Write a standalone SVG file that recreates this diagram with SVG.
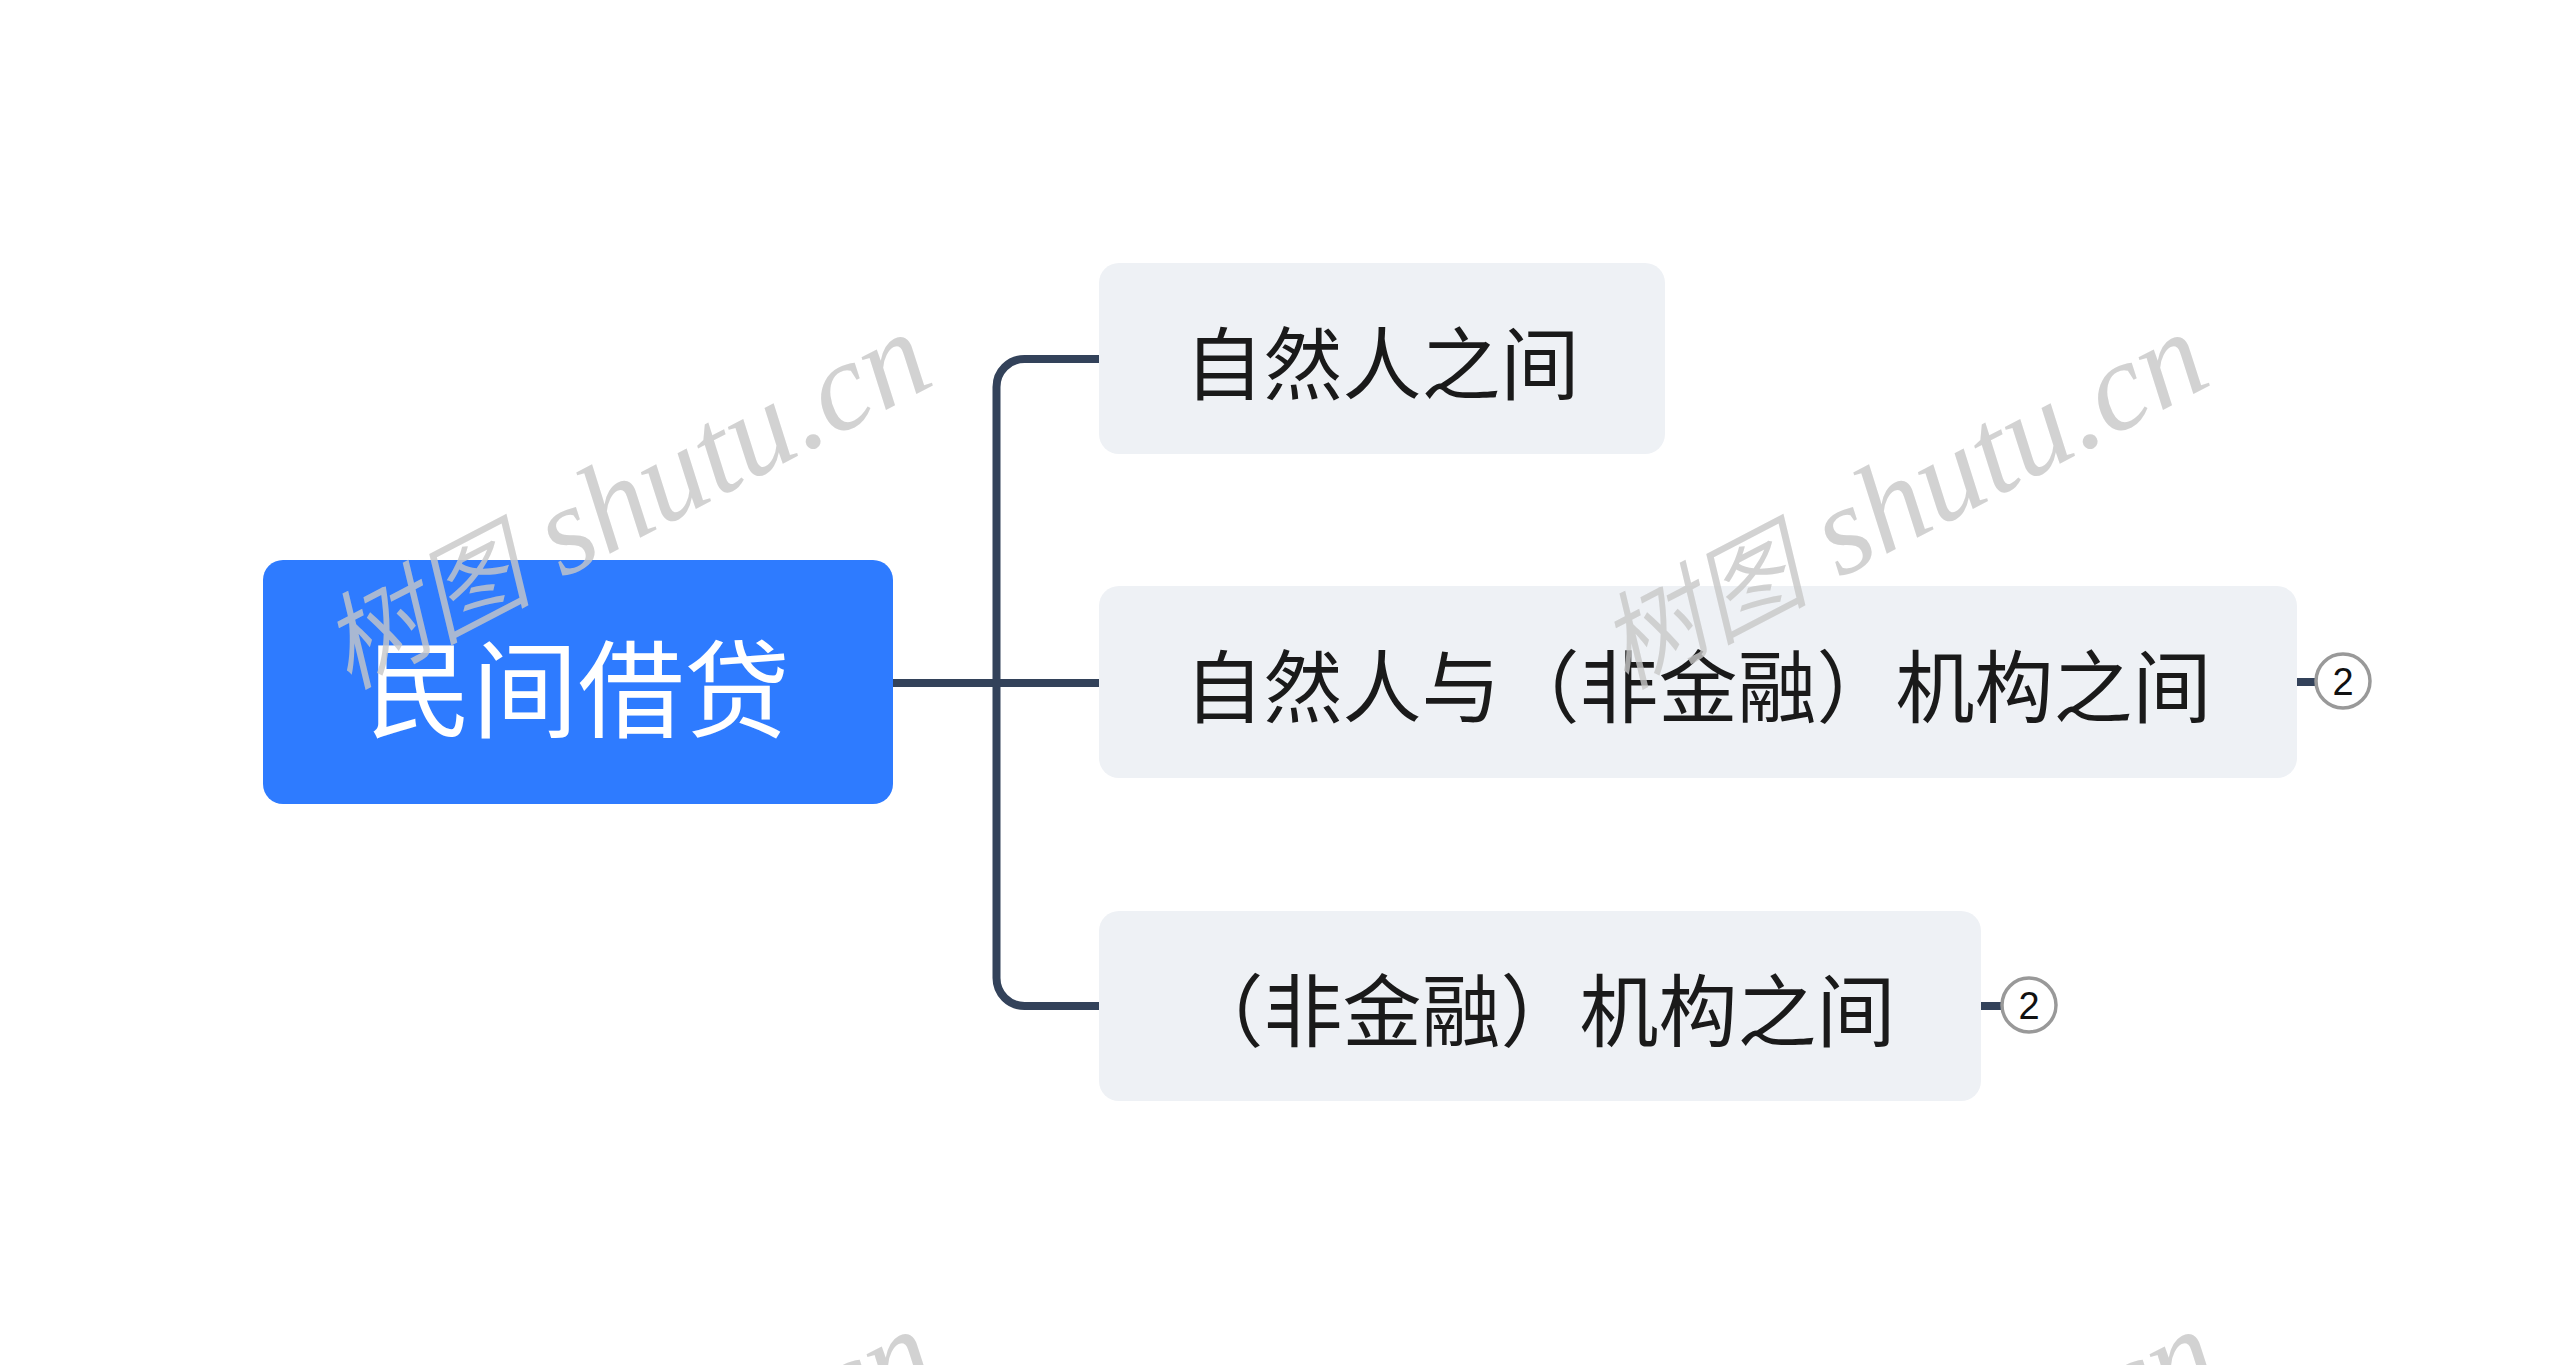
<svg xmlns="http://www.w3.org/2000/svg" width="2560" height="1365" viewBox="0 0 2560 1365">
<style>
.cn{font-family:"Noto Sans CJK SC","Noto Sans",sans-serif;dominant-baseline:central;text-anchor:middle}
.root-box{fill:#2e7bff}
.root-txt{fill:#ffffff;font-size:106px}
.sub-box{fill:#eef1f5}
.sub-txt{fill:#1a1a1a;font-size:79px}
.line{fill:none;stroke:#33425a;stroke-width:8}
.badge{fill:#ffffff;stroke:#999999;stroke-width:3.5}
.badge-txt{font-family:"Liberation Sans",Arial,sans-serif;font-size:38px;fill:#111;text-anchor:middle;dominant-baseline:central}
.wm{font-family:"Liberation Serif","Noto Sans CJK SC",serif;font-style:italic;font-size:126px;fill:#c8c8c8;opacity:0.8}
.wm .h{font-family:"Noto Sans CJK SC",serif;font-size:105px;font-weight:350}
</style>
<rect width="2560" height="1365" fill="#ffffff"/>
<g id="connectors">
<path class="line" d="M893 683 H996.5"/>
<path class="line" d="M1099 359 H1024.5 A28 28 0 0 0 996.5 387 V978 A28 28 0 0 0 1024.5 1006 H1099"/>
<path class="line" d="M996.5 683 H1099"/>
<path class="line" d="M2297 682 H2316"/>
<path class="line" d="M1981 1006 H2001"/>
</g>
<g id="root">
<rect class="root-box" x="263" y="560" width="630" height="244" rx="20"/>
<text class="cn root-txt" x="578" y="683">民间借贷</text>
</g>
<g id="node1">
<rect class="sub-box" x="1099" y="263" width="566" height="191" rx="20"/>
<text class="cn sub-txt" x="1382" y="359">自然人之间</text>
</g>
<g id="node2">
<rect class="sub-box" x="1099" y="586" width="1198" height="192" rx="20"/>
<text class="cn sub-txt" x="1698" y="682">自然人与（非金融）机构之间</text>
<circle class="badge" cx="2343" cy="681" r="27"/>
<text class="badge-txt" x="2343" y="682">2</text>
</g>
<g id="node3">
<rect class="sub-box" x="1099" y="911" width="882" height="190" rx="20"/>
<text class="cn sub-txt" x="1540" y="1006">（非金融）机构之间</text>
<circle class="badge" cx="2029" cy="1005" r="27"/>
<text class="badge-txt" x="2029" y="1006">2</text>
</g>
<g id="watermarks">
<text class="wm" transform="translate(348 690) rotate(-27.5)"><tspan class="h">树图</tspan> shutu.cn</text>
<text class="wm" transform="translate(1625 690) rotate(-27.5)"><tspan class="h">树图</tspan> shutu.cn</text>
<text class="wm" transform="translate(353 1687) rotate(-27.5)"><tspan class="h">树图</tspan> shutu.cn</text>
<text class="wm" transform="translate(1636 1687) rotate(-27.5)"><tspan class="h">树图</tspan> shutu.cn</text>
</g>
</svg>
